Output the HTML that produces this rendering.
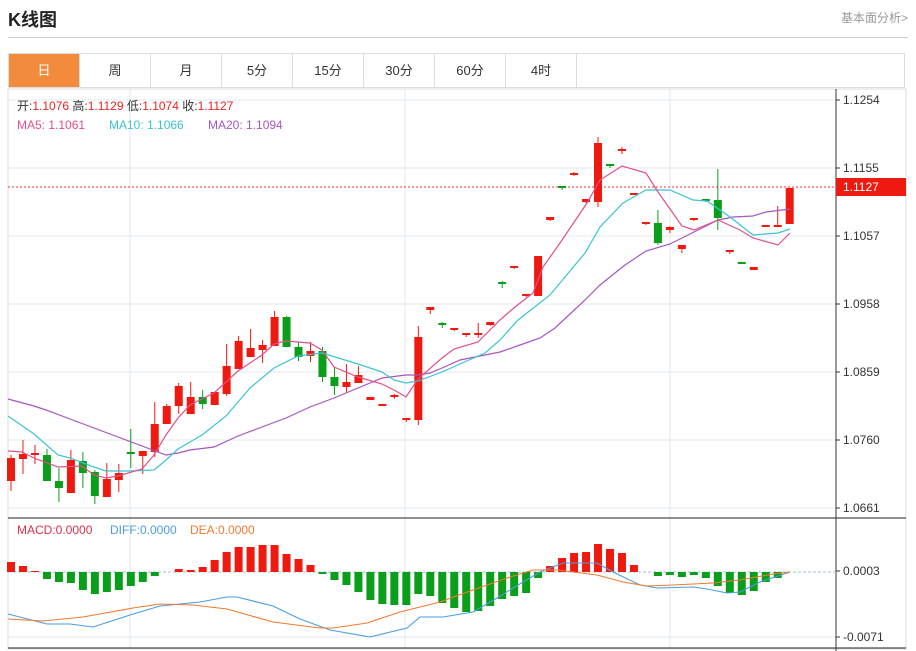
<!DOCTYPE html>
<html><head><meta charset="utf-8"><style>
body{margin:0;width:916px;height:651px;background:#fff;font-family:"Liberation Sans","Noto Sans CJK SC",sans-serif;overflow:hidden;position:relative}
.t{position:absolute;left:8px;top:6px;font-size:18px;font-weight:bold;color:#222}
.r{position:absolute;right:8px;top:9px;font-size:12px;color:#999}
.hr{position:absolute;left:8px;right:8px;top:37px;border-top:1px solid #ccc}
.tabs{position:absolute;left:8px;top:53px;width:897px;height:35px;border:1px solid #ddd;box-sizing:border-box;display:flex}
.tabs div{width:70px;border-right:1px solid #ddd;text-align:center;line-height:34px;font-size:13px;color:#333}
.tabs .a{background:#f28c3c;color:#fff}
svg{position:absolute;left:0;top:0}
</style></head><body>
<div class="t">K线图</div><div class="r">基本面分析&gt;</div><div class="hr"></div>
<div class="tabs"><div class="a">日</div><div>周</div><div>月</div><div>5分</div><div>15分</div><div>30分</div><div>60分</div><div>4时</div></div>
<svg width="916" height="651" font-family="Liberation Sans, Noto Sans CJK SC, sans-serif">
<rect x="8" y="89" width="898" height="560" fill="none" stroke="#ddd"/>
<g stroke="#e3e8ef" stroke-width="1">
<line x1="8" x2="836" y1="100" y2="100"/><line x1="8" x2="836" y1="168" y2="168"/><line x1="8" x2="836" y1="236" y2="236"/><line x1="8" x2="836" y1="304" y2="304"/><line x1="8" x2="836" y1="372" y2="372"/><line x1="8" x2="836" y1="440" y2="440"/><line x1="8" x2="836" y1="508" y2="508"/><line x1="8" x2="836" y1="637" y2="637"/>
<line x1="130" x2="130" y1="89" y2="648"/><line x1="405" x2="405" y1="89" y2="648"/><line x1="670" x2="670" y1="89" y2="648"/>
</g>
<line x1="8" x2="906" y1="518" y2="518" stroke="#222"/><line x1="8" x2="906" y1="648" y2="648" stroke="#222"/>
<line x1="836" x2="836" y1="89" y2="651" stroke="#333"/>
<g stroke="#333"><line x1="836" x2="840" y1="100" y2="100"/><line x1="836" x2="840" y1="168" y2="168"/><line x1="836" x2="840" y1="236" y2="236"/><line x1="836" x2="840" y1="304" y2="304"/><line x1="836" x2="840" y1="372" y2="372"/><line x1="836" x2="840" y1="440" y2="440"/><line x1="836" x2="840" y1="508" y2="508"/><line x1="836" x2="840" y1="571" y2="571"/><line x1="836" x2="840" y1="637" y2="637"/></g>
<g font-size="12" fill="#333"><text x="843" y="104">1.1254</text><text x="843" y="172">1.1155</text><text x="843" y="240">1.1057</text><text x="843" y="308">1.0958</text><text x="843" y="376">1.0859</text><text x="843" y="444">1.0760</text><text x="843" y="512">1.0661</text><text x="843" y="575">0.0003</text><text x="843" y="641">-0.0071</text></g>
<line x1="8" x2="836" y1="187" y2="187" stroke="#e33" stroke-dasharray="2,2"/>
<rect x="836" y="178" width="70" height="18" fill="#ee1a10"/><text x="843" y="191" font-size="12" fill="#fff">1.1127</text>
<g font-size="12"><text x="17" y="110" fill="#333">开:<tspan fill="#e22">1.1076</tspan>  高:<tspan fill="#e22">1.1129</tspan>  低:<tspan fill="#e22">1.1074</tspan>  收:<tspan fill="#e22">1.1127</tspan></text>
<text x="17" y="129" fill="#e0508a">MA5: 1.1061</text><text x="109" y="129" fill="#3bc3d3">MA10: 1.1066</text><text x="208" y="129" fill="#a855c0">MA20: 1.1094</text>
<text x="17" y="534" fill="#e0304a">MACD:0.0000</text><text x="110" y="534" fill="#4a9de0">DIFF:0.0000</text><text x="190" y="534" fill="#f07a30">DEA:0.0000</text></g>
<g id="c"></g>
<g fill="none" stroke-width="1.2">
<polyline stroke="#a855c0" points="8,399 34,406 46,410 70,419 94,428 118,437 142,446 166,455 178,453 190,450 214,447 238,436 262,427 286,418 310,407 334,398 358,388 382,378 406,375 418,375 430,373 442,368 460,360 480,356 500,352 520,345 540,338 555,328 570,314 585,300 600,285 625,265 646,251 670,244 690,234 718,220 733,217 753,216 766,212 790,209"/>
<polyline stroke="#3bc3d3" points="8,416 34,434 58,455 70,458 94,467 106,471 130,471 154,470 166,460 178,449 202,435 226,416 250,388 274,368 298,356 322,353 358,364 382,372 394,380 406,383 418,381 442,372 460,364 485,353 500,340 518,320 550,295 585,253 600,227 623,203 646,190 670,190 693,200 707,201 730,217 753,235 778,233 790,229"/>
<polyline stroke="#e0508a" points="8,451 22,452 34,458 58,467 82,466 94,475 106,478 118,476 142,469 154,455 166,435 178,418 190,405 214,393 238,371 262,355 274,344 286,341 310,343 322,350 334,367 358,377 382,384 394,390 406,397 418,379 442,358 454,349 478,342 500,320 515,307 533,293 543,267 560,243 587,203 600,180 622,166 646,173 658,192 682,226 694,230 718,220 740,230 753,238 778,245 790,233"/>
</g>
<line x1="8" x2="836" y1="572" y2="572" stroke="#9cc4e0" stroke-dasharray="3,2"/>
<g id="m"></g>
<g fill="none" stroke-width="1.1">
<polyline stroke="#4a9de0" points="8,614 47,624 70,624 93,627 130,615 160,606 200,602 227,597 237,597 273,606 300,619 330,630 370,637 407,628 420,617 443,617 473,612 497,598 523,582 540,572 563,563 597,563 613,572 640,585 657,588 693,587 707,589 727,593 740,592 760,582 790,572"/>
<polyline stroke="#f07a30" points="8,619 43,621 83,617 133,608 160,604 193,605 227,609 273,622 320,628 333,628 367,623 400,612 440,602 473,590 507,578 533,570 557,570 573,572 597,575 623,582 647,586 673,585 713,583 740,580 773,574 790,572"/>
</g>
</svg>
<script>
var d=[[458,481,455,491,1],[454,459,440,474,1],[453,455,445,464,1],[455,481,449,481,0],[481,488,468,502,0],[460,493,450,493,1],[461,473,452,488,0],[472,496,470,504,0],[479,497,463,497,1],[473,480,464,492,1],[452,454,429,468,0],[451,456,451,474,1],[424,452,402,457,1],[406,424,404,424,1],[386,406,383,414,1],[397,414,382,414,1],[397,404,390,409,0],[392,405,392,405,1],[366,394,344,396,1],[341,369,336,369,1],[348,357,329,357,1],[345,350,340,363,1],[317,346,311,346,1],[317,347,316,347,0],[347,357,342,361,0],[351,356,342,362,1],[351,377,347,382,0],[377,386,367,395,0],[382,387,364,393,1],[375,383,366,383,1],[397,400,397,400,1],[404,406,404,406,1],[395,397,394,399,1],[418,420,418,422,1],[337,420,326,425,1],[307,310,307,314,1],[323,325,322,328,0],[328,330,328,331,1],[333,335,333,337,1],[333,335,323,338,1],[322,325,322,326,1],[282,284,281,288,0],[266,268,266,269,1],[294,296,294,297,1],[256,296,256,296,1],[217,220,217,221,1],[186,188,186,190,0],[173,175,172,176,1],[199,202,199,203,1],[143,202,137,207,1],[164,166,164,168,0],[149,151,147,154,1],[193,195,193,195,1],[222,224,222,225,1],[223,243,210,245,0],[227,230,226,233,1],[245,249,245,253,1],[218,220,218,221,1],[199,201,199,202,0],[200,218,169,230,0],[250,252,250,254,1],[262,263,262,263,0],[267,270,267,270,1],[225,227,225,227,1],[225,227,206,227,1],[188,224,188,224,1]];
var m=[562,566,571,579,582,583,590,594,592,590,586,582,576,572,569,570,567,560,552,547,547,545,545,554,559,565,574,580,585,592,600,604,605,605,594,596,603,608,612,611,606,599,596,593,578,566,558,553,552,544,549,553,565,572,576,575,577,575,578,586,593,595,591,582,578,572];
var s='',t='',ns='http://www.w3.org/2000/svg';
d.forEach(function(c,i){var x=11+11.98*i,col=c[4]?'#ee1a10':'#0a9e1a';
s+='<line x1="'+x+'" x2="'+x+'" y1="'+c[2]+'" y2="'+c[3]+'" stroke="'+col+'"/><rect x="'+(x-4)+'" y="'+c[0]+'" width="8" height="'+Math.max(2,c[1]-c[0])+'" fill="'+col+'"/>';
var v=m[i],z=572;t+='<rect x="'+(x-4)+'" y="'+Math.min(v,z)+'" width="8" height="'+Math.abs(v-z)+'" fill="'+(v<z?'#ee1a10':'#0a9e1a')+'"/>';});
document.getElementById('c').innerHTML=s;document.getElementById('m').innerHTML=t;
</script>
</body></html>
